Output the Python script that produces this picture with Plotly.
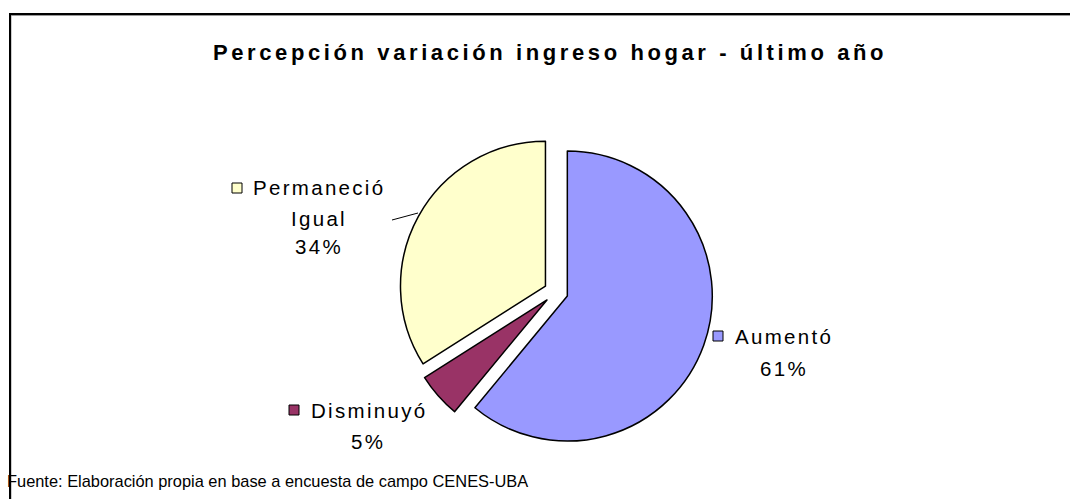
import plotly.graph_objects as go

# Data
categories = ["Aumentó", "Disminuyó", "Permaneció Igual"]
values = [61, 5, 34]
colors = ["#9999FF", "#993366", "#FFFFCC"]
pct_labels = ["61%", "5%", "34%"]

W, H = 1070, 499


def px(x):
    return x / W


def py(y):
    return 1 - y / H


def spaced(t, s):
    return f'<span style="letter-spacing:{s}px">{t}</span>'


fig = go.Figure()
fig.add_trace(go.Pie(
    labels=categories,
    values=values,
    sort=False,
    direction="clockwise",
    rotation=0,
    pull=[0.083, 0.083, 0.083],
    marker=dict(colors=colors, line=dict(color="black", width=1.5)),
    textinfo="none",
    hoverinfo="label+percent",
    showlegend=False,
    domain=dict(x=[px(399), px(713)], y=[py(449), py(135)]),
))

FONT = "Liberation Sans, Arial, sans-serif"
lab_font = dict(family=FONT, size=20.5, color="black")
LS = 2.3

annotations = [
    dict(x=px(550), y=py(52), text="<b>" + spaced("Percepción variación ingreso hogar - último año", 3.6) + "</b>",
         font=dict(family=FONT, size=22, color="black")),
    # Permaneció Igual
    dict(x=px(319), y=py(187), text=spaced(categories[2].split(" ")[0], LS), font=lab_font),
    dict(x=px(319), y=py(218), text=spaced(categories[2].split(" ")[1], LS), font=lab_font),
    dict(x=px(319), y=py(247), text=spaced(pct_labels[2], LS), font=lab_font),
    # Aumentó
    dict(x=px(784), y=py(336), text=spaced(categories[0], LS), font=lab_font),
    dict(x=px(784), y=py(368), text=spaced(pct_labels[0], LS), font=lab_font),
    # Disminuyó
    dict(x=px(369), y=py(410), text=spaced(categories[1], LS), font=lab_font),
    dict(x=px(368), y=py(441), text=spaced(pct_labels[1], LS), font=lab_font),
    # Source
    dict(x=px(5), y=py(481), xanchor="left",
         text="Fuente: Elaboración propia en base a encuesta de campo CENES-UBA",
         font=dict(family=FONT, size=16.4, color="black")),
]
for a in annotations:
    a.setdefault("xanchor", "center")
    a.update(xref="paper", yref="paper", yanchor="middle", showarrow=False)

shapes = [
    # chart border (with faint shadow)
    dict(type="rect", xref="paper", yref="paper", x0=px(11), y0=py(15.5), x1=px(1080), y1=py(520),
         line=dict(color="#999999", width=1), fillcolor="rgba(0,0,0,0)", layer="above"),
    dict(type="rect", xref="paper", yref="paper", x0=px(10), y0=py(14), x1=px(1080), y1=py(520),
         line=dict(color="black", width=2), fillcolor="rgba(0,0,0,0)", layer="above"),
    # leader line for Permaneció
    dict(type="line", xref="paper", yref="paper", x0=px(392), y0=py(220), x1=px(418), y1=py(213),
         line=dict(color="black", width=1)),
]
# legend key squares
keys = [(232, 183, colors[2]), (713, 331, colors[0]), (289, 405, colors[1])]
for kx, ky, c in keys:
    shapes.append(dict(type="rect", xref="paper", yref="paper", x0=px(kx), y0=py(ky), x1=px(kx + 10),
                       y1=py(ky + 10), fillcolor=c, line=dict(color="black", width=1)))

fig.update_layout(
    width=W, height=H,
    margin=dict(l=0, r=0, t=0, b=0),
    paper_bgcolor="white",
    plot_bgcolor="white",
    annotations=annotations,
    shapes=shapes,
)

fig.write_html("out.html", config={"displayModeBar": False},
               post_script="document.body.style.margin='0';")
